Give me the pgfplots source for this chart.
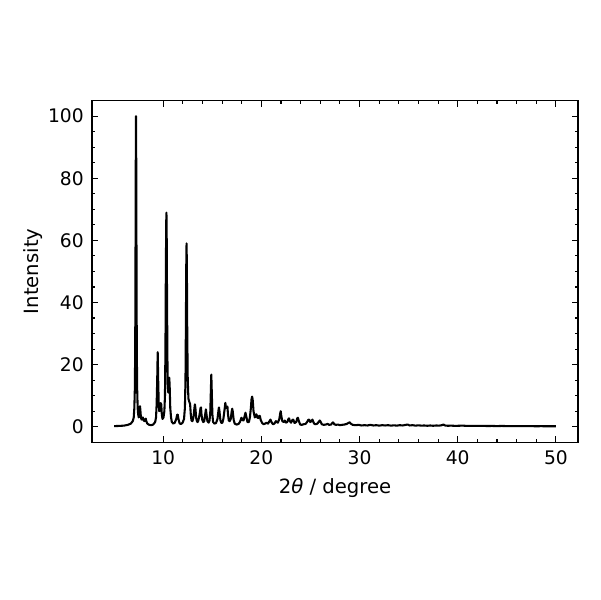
\documentclass[border=0pt]{standalone}
\usepackage{fontspec}
\setmainfont{DejaVu Sans}
\usepackage{pgfplots}
\pgfplotsset{compat=1.18}
\begin{document}
\begin{tikzpicture}
\begin{axis}[
    scale only axis,
    width=351.2pt,
    height=246.9pt,
    xmin=2.75, xmax=52.25,
    ymin=-5, ymax=105,
    xtick={10,20,30,40,50},
    ytick={0,20,40,60,80,100},
    minor x tick num=4,
    minor y tick num=3,
    tick align=inside,
    tick pos=both,
    major tick length=4.5pt,
    minor tick length=2.3pt,
    every tick/.style={black, line width=0.8pt},
    axis line style={black, line width=0.8pt},
    /pgf/number format/assume math mode=true,
    ticklabel style={font=\fontsize{13.5}{16}\selectfont},
    yticklabel style={xshift=-2.5pt},
    xticklabel style={yshift=-2.5pt},
    xlabel={2{\itshape θ} / degree},
    ylabel={Intensity},
    every axis x label/.style={at={(axis description cs:0.5,-0.1337)}, anchor=center, font=\fontsize{14.2}{17}\selectfont},
    every axis y label/.style={at={(axis description cs:-0.1216,0.5)}, anchor=center, rotate=90, font=\fontsize{14.2}{17}\selectfont},
]
\addplot[black, line width=1.5pt, line join=round] coordinates {
(5.0,0.2) (5.5,0.25) (6.0,0.35) (6.4,0.6) (6.7,1.0) (6.9,1.8) (7.0,3)
(7.06,6) (7.11,12) (7.15,25) (7.18,55) (7.21,88) (7.23,100) (7.25,88)
(7.28,55) (7.31,25) (7.35,12) (7.40,6) (7.45,4) (7.51,3) (7.56,3.5)
(7.61,5.5) (7.64,6.6) (7.67,5.5) (7.73,3) (7.8,2.3) (7.86,2.5) (7.92,3)
(7.98,2.2) (8.08,1.8) (8.18,2.4) (8.22,2.6) (8.28,1.8) (8.38,1.0)
(8.58,0.6) (8.78,0.5) (8.98,0.7) (9.18,1.5) (9.27,3) (9.33,7) (9.39,15)
(9.44,24) (9.49,15) (9.54,8) (9.6,5) (9.68,5.5) (9.75,7.6) (9.8,7.2)
(9.86,4) (9.93,2.5) (10.03,3) (10.12,5) (10.18,10) (10.23,25) (10.27,50)
(10.31,66) (10.33,68.9) (10.36,60) (10.39,42) (10.43,22) (10.47,13) (10.52,11) (10.58,14)
(10.62,15.8) (10.66,13) (10.72,6) (10.8,3) (10.88,1.5) (11.03,1.0)
(11.18,1.3) (11.33,2.5) (11.43,3.9) (11.48,3.9) (11.55,2.5) (11.68,1.0)
(11.83,0.9) (11.98,1.3) (12.12,2.5) (12.21,6) (12.27,15) (12.31,32)
(12.35,52) (12.38,59) (12.41,52) (12.45,30) (12.5,15) (12.57,9)
(12.68,7.8) (12.74,7.3) (12.81,4) (12.88,2) (12.98,1.8) (13.08,3)
(13.18,6) (13.23,7.2) (13.28,6) (13.36,2.8) (13.43,1.8) (13.5,1.5)
(13.58,2) (13.7,3.8) (13.8,6) (13.85,6.2) (13.9,4) (13.98,2.2)
(14.08,1.5) (14.18,1.8) (14.28,4) (14.35,5.6) (14.41,4) (14.5,1.8)
(14.63,1.3) (14.72,2) (14.8,5) (14.85,11) (14.9,16.8) (14.95,11)
(15.01,4) (15.08,1.5) (15.23,1.0) (15.38,1.2) (15.53,2.5) (15.64,5.5)
(15.68,6.2) (15.73,5) (15.83,2) (15.93,1.2) (16.03,1.3) (16.13,2.5)
(16.23,5) (16.33,7.7) (16.4,6) (16.48,6.2) (16.54,6.5) (16.6,4)
(16.68,2) (16.78,1.8) (16.88,2.5) (16.98,5) (17.03,5.8) (17.08,5)
(17.18,2.2) (17.28,1.0) (17.48,0.7) (17.68,0.9) (17.83,1.6) (17.93,2.6)
(17.98,2.9) (18.05,2.2) (18.18,2) (18.3,3.5) (18.38,4.5) (18.45,3.5)
(18.58,1.5) (18.73,1.5) (18.83,3) (18.93,6) (19.0,9) (19.06,9.7)
(19.12,8.5) (19.2,5) (19.33,3) (19.43,3.6) (19.5,4) (19.58,3)
(19.68,2.8) (19.78,3.5) (19.84,3.5) (19.93,2.2) (20.08,1.2) (20.23,0.8)
(20.38,1.0) (20.53,1.3) (20.68,1.0) (20.83,1.8) (20.93,2.3) (21.03,1.5)
(21.18,0.8) (21.33,1.0) (21.48,1.8) (21.58,1.5) (21.68,1.3) (21.83,2.5)
(21.93,4.5) (21.97,5) (22.03,3.5) (22.13,1.8) (22.28,1.5) (22.38,2)
(22.48,1.3) (22.63,1.5) (22.76,2.5) (22.82,2.7) (22.9,1.8) (23.03,1.3)
(23.18,2.3) (23.26,2.2) (23.38,1.2) (23.55,1.5) (23.65,2.7) (23.72,2.9)
(23.8,2.0) (23.95,0.7) (24.1,0.6) (24.3,0.8) (24.5,0.9) (24.65,1.5)
(24.8,2.3) (24.88,2.2) (24.98,1.5) (25.1,1.8) (25.2,2.3) (25.28,1.6)
(25.4,0.9) (25.55,0.8) (25.7,1.0) (25.85,1.6) (25.95,2.0) (26.05,1.5)
(26.15,0.8) (26.35,0.6) (26.55,0.7) (26.75,0.9) (26.9,0.6) (27.1,0.7)
(27.25,1.3) (27.32,1.4) (27.42,0.8) (27.6,0.6) (27.8,0.7) (28.0,0.5)
(28.2,0.6) (28.45,0.7) (28.7,0.9) (28.9,1.3) (29.0,1.4) (29.1,1.0)
(29.3,0.6) (29.6,0.5) (29.9,0.6) (30.2,0.4) (30.5,0.5) (30.8,0.4)
(31.1,0.6) (31.4,0.4) (31.7,0.5) (32.0,0.35) (32.3,0.5) (32.6,0.4)
(32.9,0.5) (33.2,0.35) (33.5,0.45) (33.8,0.35) (34.1,0.5) (34.4,0.4)
(34.7,0.6) (34.9,0.7) (35.1,0.4) (35.4,0.5) (35.7,0.35) (36.0,0.45)
(36.3,0.35) (36.6,0.4) (36.9,0.3) (37.2,0.4) (37.5,0.3) (37.8,0.4)
(38.1,0.35) (38.4,0.5) (38.55,0.7) (38.7,0.4) (39.0,0.3) (39.3,0.35)
(39.6,0.3) (40.0,0.3) (40.5,0.35) (41.0,0.25) (41.5,0.3) (42.0,0.25)
(42.5,0.3) (43.0,0.22) (43.5,0.25) (44.0,0.2) (44.5,0.25) (45.0,0.2)
(45.5,0.22) (46.0,0.18) (46.5,0.2) (47.0,0.17) (47.5,0.18) (48.0,0.15)
(48.5,0.17) (49.0,0.15) (49.5,0.15) (50.0,0.15)
};
\end{axis}
\pgfresetboundingbox
\path[use as bounding box] (-66.5pt,-114pt) rectangle (367.1pt,319.6pt);
\end{tikzpicture}
\end{document}
